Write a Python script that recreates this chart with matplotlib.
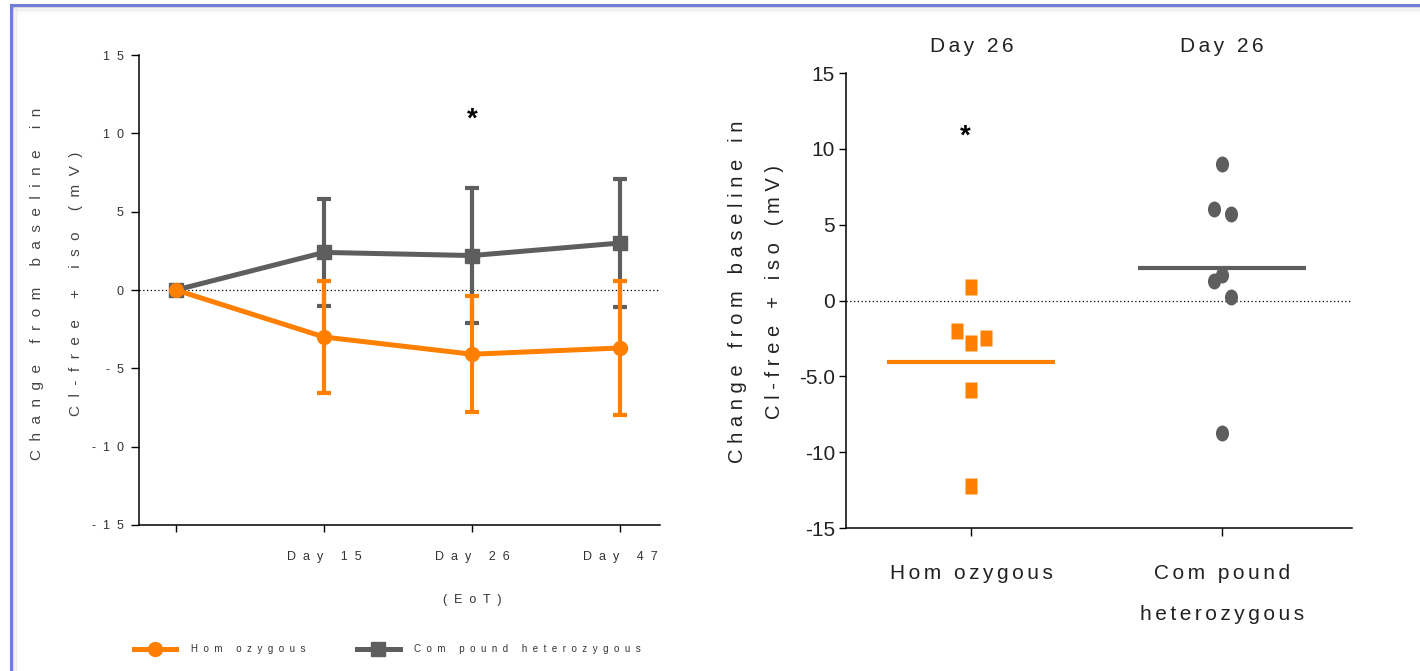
import matplotlib
matplotlib.use("Agg")
import numpy as np
import matplotlib.pyplot as plt
from matplotlib.lines import Line2D
from matplotlib.markers import MarkerStyle
from matplotlib.transforms import Affine2D

# left panel: change from baseline over time (mean +/- SD)
timepoints = ["", "Day 15", "Day 26", "Day 47"]
homo_mean = [0.0, -3.0, -4.1, -3.7]
homo_sd = [0.0, 3.6, 3.7, 4.3]
comp_mean = [0.0, 2.4, 2.2, 3.0]
comp_sd = [0.0, 3.4, 4.3, 4.1]
left_yticks = [-15, -10, -5, 0, 5, 10, 15]

# right panel: individual patients at day 26
groups = ["Hom ozygous", "Com pound\nheterozygous"]
homo_day26 = [0.9, -2.0, -2.8, -2.5, -5.9, -12.2]
comp_day26 = [9.0, 6.05, 5.7, 1.7, 1.3, 0.25, -8.75]
homo_jitter = [0.0, -0.056, 0.0, 0.06, 0.0, 0.0]
comp_jitter = [0.0, -0.032, 0.036, 0.0, -0.032, 0.036, 0.0]
right_yticks = [-15, -10, -5, 0, 5, 10, 15]
right_yticklabels = ["-15", "-10", "-5.0", "0", "5", "10", "15"]

ORANGE = "#ff8000"
GREY = "#5e5e5e"
SANS = ["Liberation Sans", "DejaVu Sans"]
HAIR = "\u200a\u200a"


def spaced(s, gap="  "):
    return "\n".join(gap.join(line) for line in s.split("\n"))


plt.rcParams["font.family"] = SANS

fig = plt.figure(figsize=(14.2, 6.71), dpi=100)
fig.patch.set_facecolor("white")

# ---------------- left panel ----------------
ax1 = fig.add_axes([0.0979, 0.2176, 0.3669, 0.7004])
x = np.arange(len(timepoints))

ax1.axhline(0, color="black", lw=0.9, ls=(0, (1, 2)), zorder=1)

comp_line, = ax1.plot(x, comp_mean, color=GREY, lw=3.6, marker="s", ms=10,
                      zorder=3)
ax1.errorbar(x[1:], comp_mean[1:], yerr=comp_sd[1:], fmt="none", ecolor=GREY,
             elinewidth=3, capsize=5, capthick=3, zorder=3)
homo_line, = ax1.plot(x, homo_mean, color=ORANGE, lw=3.6, marker="o", ms=10,
                      zorder=4)
ax1.errorbar(x[1:], homo_mean[1:], yerr=homo_sd[1:], fmt="none", ecolor=ORANGE,
             elinewidth=3, capsize=5, capthick=3, zorder=4)

ax1.set_xlim(-0.25, 3.27)
ax1.set_ylim(-15, 15)
ax1.set_xticks(x)
ax1.set_xticklabels([spaced(t) for t in timepoints], fontsize=9, color="#333333")
ax1.set_yticks(left_yticks)
ax1.set_yticklabels([spaced(str(v)) for v in left_yticks], fontsize=9,
                    color="#333333")
ax1.tick_params(axis="y", length=6, width=1, pad=5)
ax1.tick_params(axis="x", length=5, width=1, pad=14)
for side in ["top", "right"]:
    ax1.spines[side].set_visible(False)
for side in ["left", "bottom"]:
    ax1.spines[side].set_linewidth(1.1)

ax1.text(2, -0.16, spaced("(EoT)"), transform=ax1.get_xaxis_transform(),
         ha="center", va="center", fontsize=9, color="#333333")
ax1.text(2, 10.9, "*", ha="center", va="center", fontsize=20,
         fontweight="bold", color="black")

ax1.set_ylabel(spaced("Change from baseline in") + "\n" + spaced("Cl-free + iso (mV)"),
               fontsize=11, color="#444444", linespacing=3.3)
ax1.yaxis.set_label_coords(-0.107, 0.513)

fig.legend([homo_line, comp_line],
           [spaced("Hom ozygous"), spaced("Com pound heterozygous")],
           loc="center left", bbox_to_anchor=(0.088, 1 - 649 / 671), ncol=2,
           frameon=False, fontsize=7, handlelength=4.4, handletextpad=1.5,
           columnspacing=5.3, labelcolor="#333333")

# ---------------- right panel ----------------
ax2 = fig.add_axes([0.5958, 0.2131, 0.3565, 0.678])
ax2.axhline(0, color="black", lw=0.9, ls=(0, (1, 2)), zorder=1)

tall_square = MarkerStyle("s", transform=Affine2D().scale(0.78, 1.0))
tall_dot = MarkerStyle("o", transform=Affine2D().scale(0.82, 1.0))
ax2.plot(np.array(homo_jitter), homo_day26, ls="none", marker=tall_square,
         color=ORANGE, ms=11, mec="none", zorder=3)
ax2.plot(1 + np.array(comp_jitter), comp_day26, ls="none", marker=tall_dot,
         color=GREY, ms=11.5, mec="none", zorder=3)
ax2.hlines(np.mean(homo_day26), -0.335, 0.335, color=ORANGE, lw=3, zorder=2)
ax2.hlines(np.mean(comp_day26), 1 - 0.335, 1 + 0.335, color=GREY, lw=3,
           zorder=2)

ax2.set_xlim(-0.5, 1.52)
ax2.set_ylim(-15, 15)
ax2.set_xticks([0, 1])
ax2.set_xticklabels([spaced(g, HAIR) for g in groups], fontsize=15,
                    color="#222222", linespacing=2.45)
ax2.set_yticks(right_yticks)
ax2.set_yticklabels(right_yticklabels, fontsize=15, color="#222222")
ax2.tick_params(axis="y", length=5, width=1, pad=3)
ax2.tick_params(axis="x", length=6, width=1, pad=20)
for side in ["top", "right"]:
    ax2.spines[side].set_visible(False)
for side in ["left", "bottom"]:
    ax2.spines[side].set_linewidth(1.1)

for g in [0, 1]:
    ax2.text(g, 1.059, spaced("Day 26", HAIR),
             transform=ax2.get_xaxis_transform(), ha="center", va="center",
             fontsize=15, color="#222222")
ax2.text(-0.024, 10.8, "*", ha="center", va="center", fontsize=20,
         fontweight="bold", color="black")

ax2.set_ylabel(spaced("Change from baseline in", " ") + "\n" +
               spaced("Cl-free + iso (mV)", " "),
               fontsize=14.5, color="#222222", linespacing=2.25)
ax2.yaxis.set_label_coords(-0.122, 0.519)

# slide frame: blue border with soft shadow
for i, a in enumerate([0.10, 0.07, 0.05, 0.03, 0.02]):
    off = (i + 1) * 1.6
    fig.add_artist(Line2D([(11 + off) / 1420, 1], [1 - (5 + off) / 671] * 2,
                          transform=fig.transFigure, color="black", alpha=a,
                          lw=1.2))
    fig.add_artist(Line2D([(11 + off) / 1420] * 2, [0, 1 - (5 + off) / 671],
                          transform=fig.transFigure, color="black", alpha=a,
                          lw=1.2))
fig.add_artist(Line2D([11 / 1420, 1], [1 - 5 / 671] * 2,
                      transform=fig.transFigure, color="#6f7fd8", lw=2.2))
fig.add_artist(Line2D([11 / 1420] * 2, [0, 1 - 5 / 671],
                      transform=fig.transFigure, color="#6f7fd8", lw=2.2))

fig.savefig("out.png", dpi=100, facecolor="white")
